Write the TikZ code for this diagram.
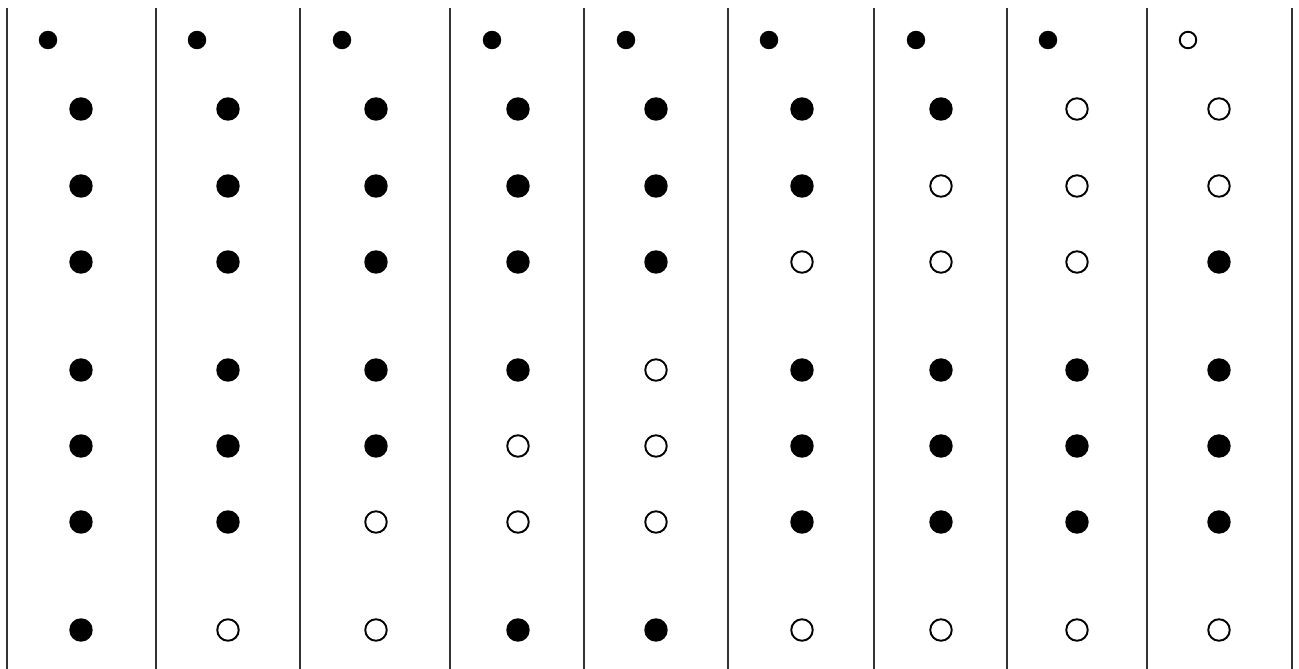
\documentclass[tikz,border=0pt]{standalone}
\usetikzlibrary{positioning}
\tikzset{
  bead/.style={circle, draw=black, line width=1.1pt, inner sep=0pt, minimum size=0.43cm},
  sbead/.style={bead, minimum size=0.33cm},
  fb/.style={bead, fill=black},
  hb/.style={bead, fill=white},
  sfb/.style={sbead, fill=black},
  shb/.style={sbead, fill=white},
  divider/.style={draw=black!80, line width=0.6pt}
}
\begin{document}
\begin{tikzpicture}[x=0.02cm, y=-0.02cm]
  \useasboundingbox (0,0) rectangle (1299,669);

  % column dividers
  \foreach \lx in {7,156,300,450,584,728,874,1007,1147,1292}
    \draw[divider] (\lx,8) -- (\lx,669);

  % column and row anchors
  \foreach \sx [count=\c] in {48,197,342,492,626,769,916,1048,1188}
    \coordinate (s\c) at (\sx,40);
  \foreach \cx [count=\c] in {81,228,376,518,656,802,941,1077,1219}
    \coordinate (x\c) at (\cx,0);
  \foreach \ry [count=\r] in {109,186,262,370,446,522,630}
    \coordinate (y\r) at (0,\ry);

  % top row
  \foreach \st [count=\c] in {sfb,sfb,sfb,sfb,sfb,sfb,sfb,sfb,shb}
    \node[\st] (t\c) at (s\c) {};

  % main rows
  \foreach \st [count=\c] in {fb,fb,fb,fb,fb,fb,fb,hb,hb}
    \node[\st] (r1c\c) at (x\c |- y1) {};
  \foreach \st [count=\c] in {fb,fb,fb,fb,fb,fb,hb,hb,hb}
    \node[\st] (r2c\c) at (x\c |- y2) {};
  \foreach \st [count=\c] in {fb,fb,fb,fb,fb,hb,hb,hb,fb}
    \node[\st] (r3c\c) at (x\c |- y3) {};
  \foreach \st [count=\c] in {fb,fb,fb,fb,hb,fb,fb,fb,fb}
    \node[\st] (r4c\c) at (x\c |- y4) {};
  \foreach \st [count=\c] in {fb,fb,fb,hb,hb,fb,fb,fb,fb}
    \node[\st] (r5c\c) at (x\c |- y5) {};
  \foreach \st [count=\c] in {fb,fb,hb,hb,hb,fb,fb,fb,fb}
    \node[\st] (r6c\c) at (x\c |- y6) {};
  \foreach \st [count=\c] in {fb,hb,hb,fb,fb,hb,hb,hb,hb}
    \node[\st] (r7c\c) at (x\c |- y7) {};
\end{tikzpicture}
\end{document}
